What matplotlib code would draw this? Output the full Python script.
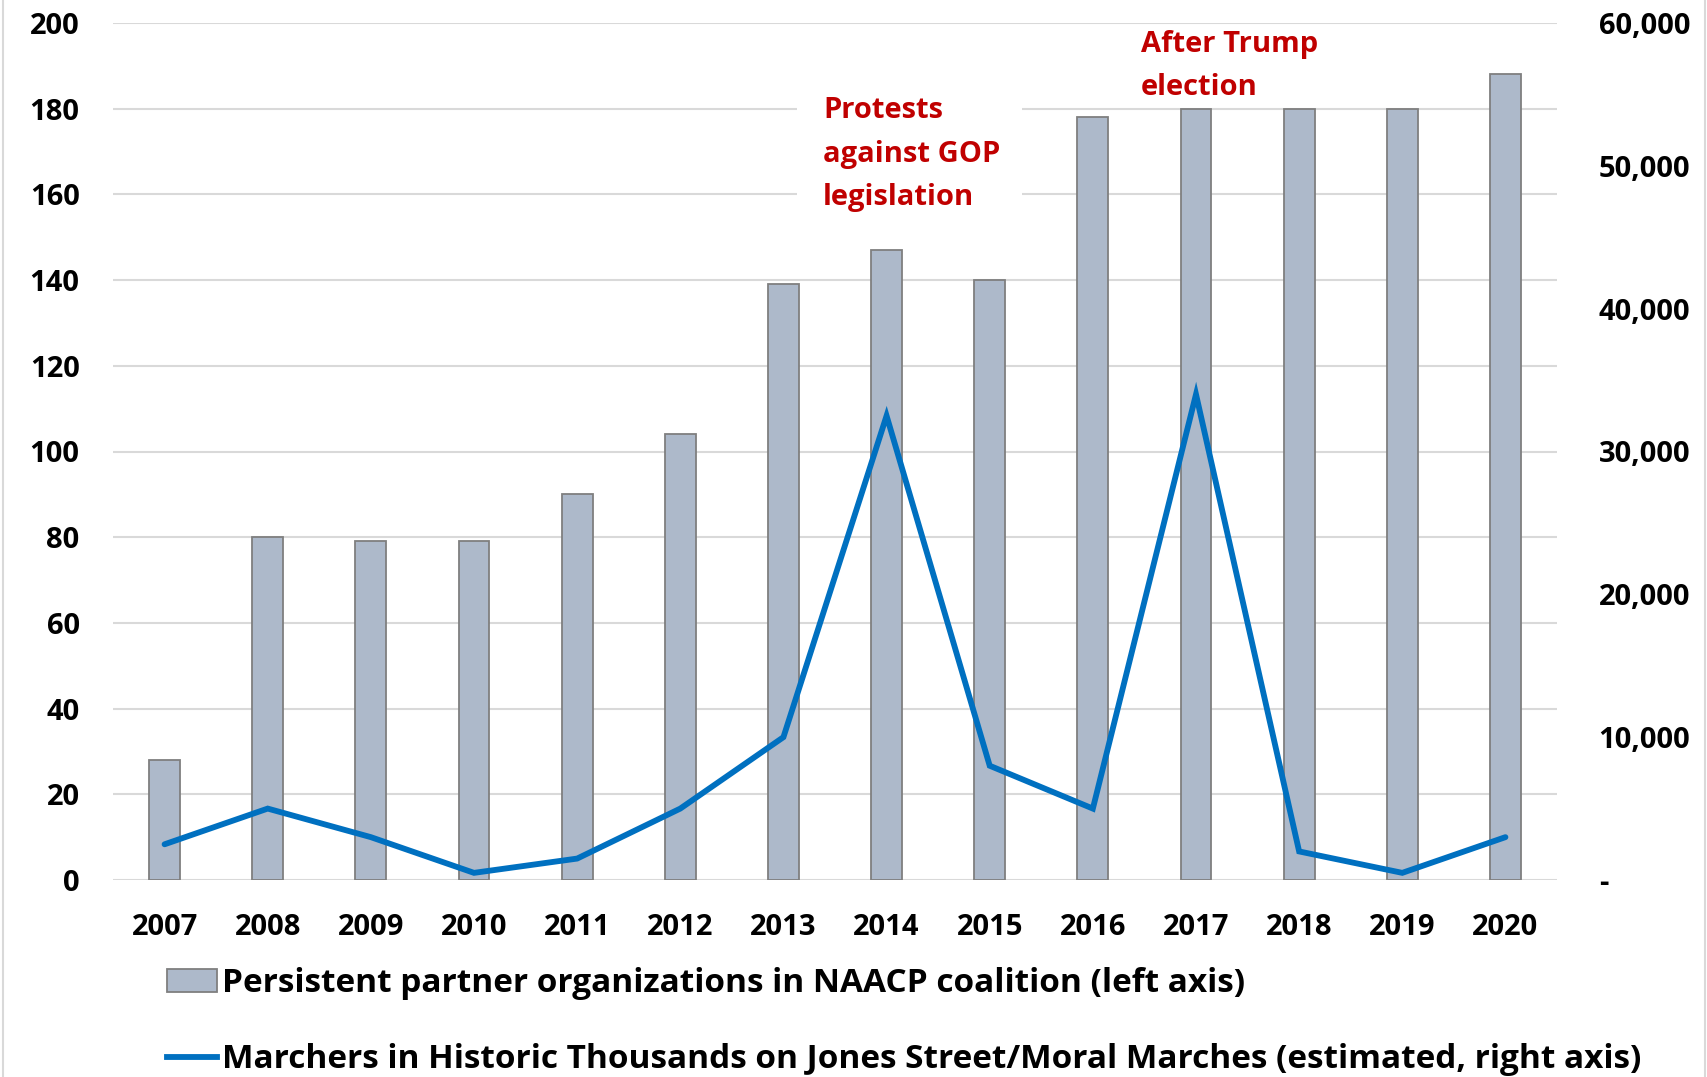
import matplotlib
matplotlib.use("Agg")
import matplotlib.pyplot as plt
from matplotlib.patches import Patch, Rectangle
from matplotlib.lines import Line2D
from matplotlib.ticker import FuncFormatter

years = ["2007", "2008", "2009", "2010", "2011", "2012", "2013",
         "2014", "2015", "2016", "2017", "2018", "2019", "2020"]
partners = [28, 80, 79, 79, 90, 104, 139, 147, 140, 178, 180, 180, 180, 188]
marchers = [2500, 5000, 3000, 500, 1500, 5000, 10000, 32500, 8000, 5000, 34000, 2000, 500, 3000]
left_ticks = [0, 20, 40, 60, 80, 100, 120, 140, 160, 180, 200]
right_ticks = [0, 10000, 20000, 30000, 40000, 50000, 60000]
bar_label = "Persistent partner organizations in NAACP coalition (left axis)"
line_label = "Marchers in Historic Thousands on Jones Street/Moral Marches (estimated, right axis)"
note1 = ["Protests", "against GOP", "legislation"]
note2 = ["After Trump", "election"]

plt.rcParams['font.family'] = ['Open Sans', 'DejaVu Sans']
plt.rcParams['font.weight'] = 'bold'
FS = 21
LFS = 24

W, H = 1708, 1077
fig = plt.figure(figsize=(W / 100, H / 100), dpi=100)
ax = fig.add_axes([113 / W, 1 - 880 / H, (1557 - 113) / W, (880 - 23) / H])

x = list(range(len(years)))
ax.bar(x, partners, width=0.30, color='#adb9ca', edgecolor='#7f7f7f', linewidth=1.3, zorder=3)
ax.set_xlim(-0.5, len(years) - 0.5)
ax.set_ylim(0, 200)
ax.set_yticks(left_ticks)
ax.set_xticks(x)
ax.set_xticklabels(years)
ax.yaxis.grid(True, color='#d9d9d9', linewidth=1.5, zorder=0)
ax.set_axisbelow(True)
for s in ax.spines.values():
    s.set_visible(False)
ax.tick_params(axis='y', length=0, pad=24, labelsize=FS)
ax.tick_params(axis='x', length=0, pad=24, labelsize=FS)
for lab in ax.get_xticklabels() + ax.get_yticklabels():
    lab.set_fontweight('bold')

# white panel behind the first note (interrupts gridlines)
ax.add_patch(Rectangle((6.13, 155.2), 8.31 - 6.13, 185.5 - 155.2, facecolor='white',
                       edgecolor='none', zorder=1.5))
for line, yv in zip(note1, [177.8, 167.6, 157.5]):
    ax.text(6.384, yv, line, color='#c00000', fontsize=FS, fontweight='bold',
            ha='left', va='baseline', zorder=5)
for line, yv in zip(note2, [193.2, 183.2]):
    ax.text(9.467, yv, line, color='#c00000', fontsize=FS, fontweight='bold',
            ha='left', va='baseline', zorder=5)

ax2 = ax.twinx()
ax2.plot(x, marchers, color='#0070c0', linewidth=4.2, solid_capstyle='round',
         solid_joinstyle='miter', zorder=3)
ax2.set_ylim(0, 60000)
ax2.set_yticks(right_ticks)
ax2.yaxis.set_major_formatter(FuncFormatter(lambda v, p: '-' if v == 0 else f"{int(v):,}"))
for s in ax2.spines.values():
    s.set_visible(False)
ax2.tick_params(axis='y', length=0, pad=30, labelsize=FS)
for lab in ax2.get_yticklabels():
    lab.set_fontweight('bold')

handles = [Patch(facecolor='#adb9ca', edgecolor='#7f7f7f', linewidth=1.3),
           Line2D([0], [0], color='#0070c0', linewidth=4.2)]
fig.legend(handles, [bar_label, line_label], loc='center left',
           bbox_to_anchor=(167 / W, 1 - 1021.5 / H), frameon=False,
           prop={'weight': 'bold', 'size': LFS}, borderpad=0, borderaxespad=0,
           handlelength=1.5, handletextpad=0.15, labelspacing=1.3)

fig.patches.append(Rectangle((3 / W, -0.01), (1705 - 3) / W, 1.02, transform=fig.transFigure,
                             fill=False, edgecolor='#d9d9d9', linewidth=1.5))

fig.savefig("out.png", dpi=100)
